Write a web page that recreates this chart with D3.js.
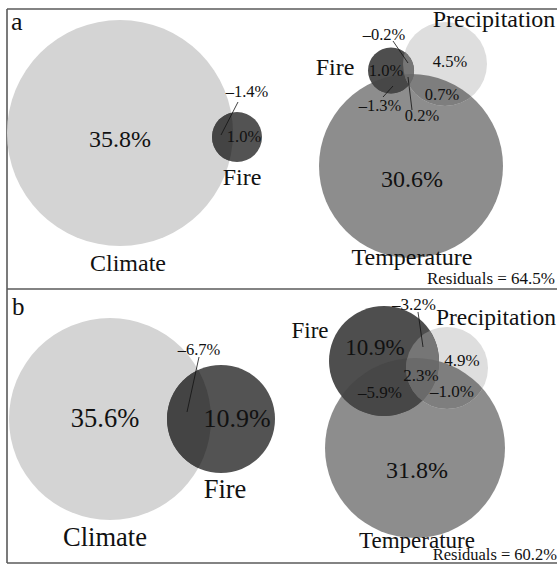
<!DOCTYPE html>
<html>
<head>
<meta charset="utf-8">
<script src="https://cdn.jsdelivr.net/npm/d3@7/dist/d3.min.js"></script>
<style>
  html, body { margin: 0; padding: 0; background: #fff; }
  svg text { font-family: "Liberation Serif", "Times New Roman", serif; fill: #111; }
</style>
</head>
<body>
<svg id="chart" width="560" height="564"></svg>
<script>
// ---- data: variance partitioning (% of explained variance) ----
const panelLetters = ["a", "b"];
const residuals = [64.5, 60.2];

// two-set partition: Climate vs Fire
const twoSetNames = ["Climate", "Fire"];
const twoSetRegions = ["Climate", "Fire", "Climate∩Fire"];
const twoSetA = [35.8, 1.0, -1.4];
const twoSetB = [35.6, 10.9, -6.7];

// three-set partition: Temperature, Precipitation, Fire
const threeSetNames = ["Temperature", "Precipitation", "Fire"];
const threeSetRegions = ["T", "P", "F", "T∩P", "T∩F", "P∩F", "T∩P∩F"];
const threeSetA = [30.6, 4.5, 1.0, 0.7, -1.3, -0.2, 0.2];
const threeSetB = [31.8, 4.9, 10.9, -1.0, -5.9, -3.2, 2.3];

// ---- layout (pixel geometry of each diagram) ----
const frame = { x0: 7, x1: 557, y0: 9, yMid: 289, y1: 563 };

const layouts = [
  { // panel a
    letter: { x: 11, y: 30, size: 26 },
    residual: { x: 555, y: 284, size: 17 },
    two: {
      circles: { Climate: { cx: 120, cy: 133, r: 113 }, Fire: { cx: 237, cy: 137, r: 25 } },
      names: { Climate: { x: 128, y: 271, size: 24 }, Fire: { x: 242, y: 185, size: 24 } },
      labels: [
        { x: 120, y: 147, size: 24 },
        { x: 244, y: 142, size: 16.5 },
        { x: 247, y: 97, size: 16.5, lead: [221, 135, 238, 102] }
      ]
    },
    three: {
      circles: { Temperature: { cx: 411, cy: 166, r: 92 }, Precipitation: { cx: 445, cy: 64, r: 42 }, Fire: { cx: 391, cy: 70.5, r: 23 } },
      names: { Temperature: { x: 412, y: 265, size: 24 }, Precipitation: { x: 494, y: 27, size: 24 }, Fire: { x: 335, y: 75, size: 24 } },
      labels: [
        { x: 412, y: 187, size: 24 },
        { x: 450, y: 67, size: 16.5 },
        { x: 386, y: 76, size: 16.5 },
        { x: 442, y: 100, size: 16.5 },
        { x: 380, y: 111, size: 16.5, lead: [383, 97, 393, 86] },
        { x: 384, y: 40, size: 16.5, lead: [393, 41, 408, 63] },
        { x: 422, y: 121, size: 16.5, lead: [412, 110, 408, 77] }
      ]
    }
  },
  { // panel b
    letter: { x: 12, y: 315, size: 25 },
    residual: { x: 557, y: 560, size: 16.5 },
    two: {
      circles: { Climate: { cx: 110, cy: 419, r: 101 }, Fire: { cx: 221, cy: 419, r: 54 } },
      names: { Climate: { x: 105, y: 546, size: 26.5 }, Fire: { x: 225, y: 498, size: 26.5 } },
      labels: [
        { x: 105, y: 427, size: 26.5 },
        { x: 237, y: 427, size: 26 },
        { x: 199, y: 355, size: 16.5, lead: [187, 412, 199, 357] }
      ]
    },
    three: {
      circles: { Temperature: { cx: 415, cy: 448, r: 90 }, Precipitation: { cx: 447, cy: 368, r: 41 }, Fire: { cx: 384, cy: 361, r: 55 } },
      names: { Temperature: { x: 417, y: 548, size: 23 }, Precipitation: { x: 496, y: 325, size: 23.5 }, Fire: { x: 310, y: 338, size: 23 } },
      labels: [
        { x: 417, y: 478, size: 24 },
        { x: 462, y: 366, size: 17 },
        { x: 375, y: 355, size: 23 },
        { x: 452, y: 397, size: 17 },
        { x: 380, y: 398, size: 17 },
        { x: 414, y: 310, size: 17, lead: [423, 347, 418, 312] },
        { x: 421, y: 381, size: 17 }
      ]
    }
  }
];

// grey level of every region (single sets and their overlaps)
const twoSetFill = { Climate: "#d4d4d4", Fire: "#535353", overlap: "#444444" };
const threeSetFill = {
  T: "#8d8d8d", P: "#dedede", F: "#4e4e4e",
  TP: "#7e7e7e", TF: "#474747", PF: "#767676", TPF: "#6a6a6a"
};

const fmt = v => (v < 0 ? "\u2013" + d3.format(".1f")(-v) : d3.format(".1f")(v)) + "%";

const svg = d3.select("#chart");
const defs = svg.append("defs");

// frame and panel divider
const frameColor = "#5a5a5a";
svg.append("line").attr("x1", frame.x0).attr("x2", frame.x0).attr("y1", frame.y0).attr("y2", frame.y1)
  .attr("stroke", frameColor).attr("stroke-width", 1.6);
[frame.y0, frame.yMid, frame.y1].forEach(y => {
  svg.append("line").attr("x1", frame.x0).attr("x2", frame.x1).attr("y1", y).attr("y2", y)
    .attr("stroke", frameColor).attr("stroke-width", 1.6);
});

// clip path shaped like one set's circle
function clipFor(id, c) {
  defs.append("clipPath").attr("id", id)
    .append("circle").attr("cx", c.cx).attr("cy", c.cy).attr("r", c.r);
  return `url(#${id})`;
}

function circle(g, c, fill) {
  return g.append("circle").attr("cx", c.cx).attr("cy", c.cy).attr("r", c.r).attr("fill", fill);
}

function drawLabels(g, values, labels) {
  const items = values.map((v, i) => ({ v, ...labels[i] }));
  g.selectAll("line.lead").data(items.filter(d => d.lead)).join("line")
    .attr("class", "lead")
    .attr("x1", d => d.lead[0]).attr("y1", d => d.lead[1])
    .attr("x2", d => d.lead[2]).attr("y2", d => d.lead[3])
    .attr("stroke", "#111").attr("stroke-width", 0.8);
  g.selectAll("text.val").data(items).join("text")
    .attr("class", "val")
    .attr("x", d => d.x).attr("y", d => d.y)
    .attr("text-anchor", "middle")
    .style("font-size", d => d.size + "px")
    .text(d => fmt(d.v));
}

function drawNames(g, names, pos) {
  g.selectAll("text.name").data(names).join("text")
    .attr("class", "name")
    .attr("x", d => pos[d].x).attr("y", d => pos[d].y)
    .attr("text-anchor", "middle")
    .style("font-size", d => pos[d].size + "px")
    .text(d => d);
}

const twoValues = [twoSetA, twoSetB];
const threeValues = [threeSetA, threeSetB];

layouts.forEach((L, p) => {
  const id = panelLetters[p];
  const g = svg.append("g").attr("class", "panel-" + id);

  // Climate / Fire diagram
  const g2 = g.append("g");
  const C = L.two.circles.Climate, F2 = L.two.circles.Fire;
  circle(g2, C, twoSetFill.Climate);
  circle(g2, F2, twoSetFill.Fire);
  circle(g2.append("g").attr("clip-path", clipFor(id + "-clim", C)), F2, twoSetFill.overlap);
  drawLabels(g2, twoValues[p], L.two.labels);
  drawNames(g2, twoSetNames, L.two.names);

  // Temperature / Precipitation / Fire diagram
  const g3 = g.append("g");
  const T = L.three.circles.Temperature, P = L.three.circles.Precipitation, F = L.three.circles.Fire;
  const clipT = clipFor(id + "-temp", T), clipP = clipFor(id + "-prec", P);
  circle(g3, T, threeSetFill.T);
  circle(g3, P, threeSetFill.P);
  circle(g3, F, threeSetFill.F);
  circle(g3.append("g").attr("clip-path", clipT), P, threeSetFill.TP);
  circle(g3.append("g").attr("clip-path", clipT), F, threeSetFill.TF);
  circle(g3.append("g").attr("clip-path", clipP), F, threeSetFill.PF);
  circle(g3.append("g").attr("clip-path", clipT).append("g").attr("clip-path", clipP), F, threeSetFill.TPF);
  drawLabels(g3, threeValues[p], L.three.labels);
  drawNames(g3, threeSetNames, L.three.names);

  // panel letter and residual share
  g.append("text").attr("x", L.letter.x).attr("y", L.letter.y)
    .style("font-size", L.letter.size + "px").text(id);
  g.append("text").attr("x", L.residual.x).attr("y", L.residual.y)
    .attr("text-anchor", "end").style("font-size", L.residual.size + "px")
    .text("Residuals = " + d3.format(".1f")(residuals[p]) + "%");
});
</script>
</body>
</html>
